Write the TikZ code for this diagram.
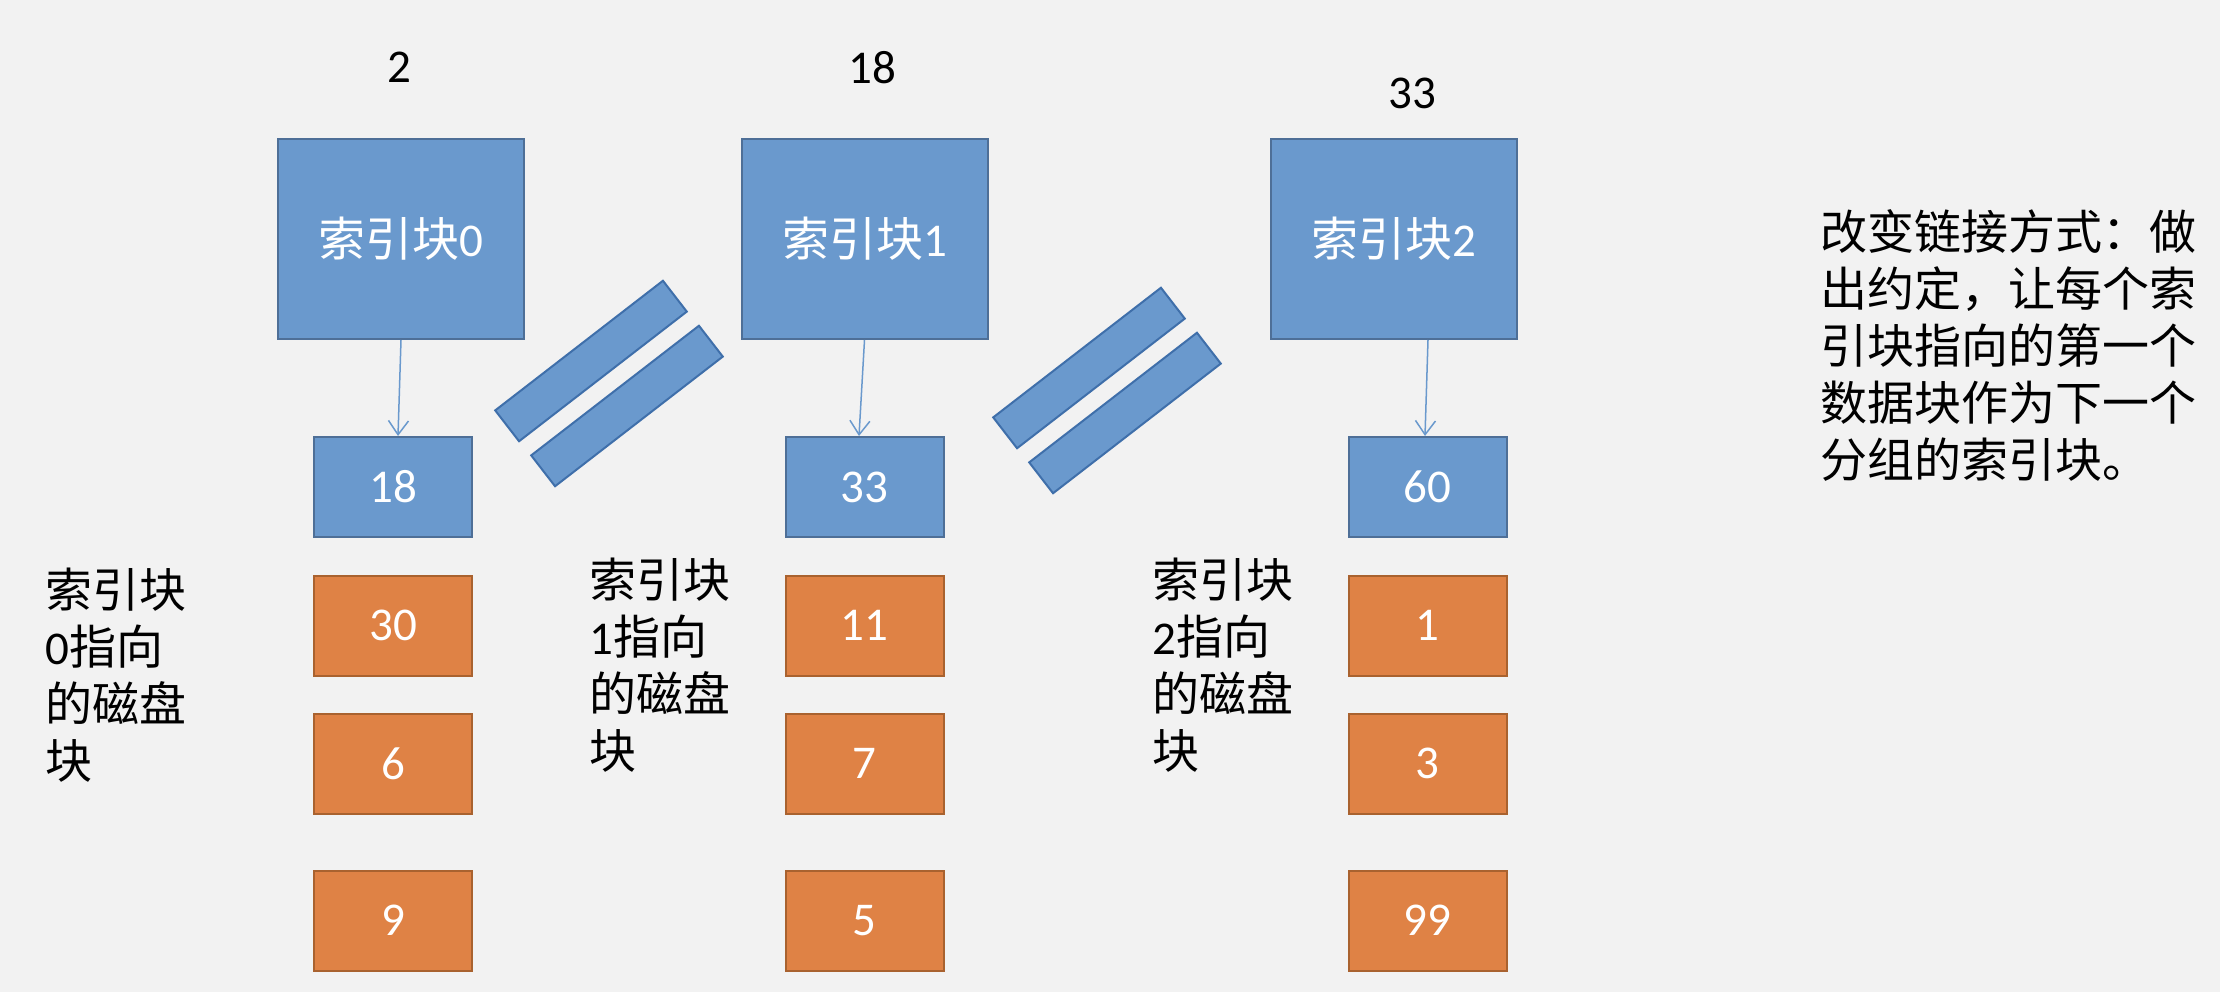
\documentclass[tikz,border=0pt]{standalone}
\usepackage{fontspec}
\setmainfont{Carlito}
\newfontfamily\cjk{Noto Sans CJK SC}
\usetikzlibrary{arrows.meta}

\definecolor{bg}{HTML}{F2F2F2}
\definecolor{bluefill}{HTML}{6A99CD}
\definecolor{blueline}{HTML}{4E6F97}
\definecolor{barline}{HTML}{3F6FAA}
\definecolor{orangefill}{HTML}{DF8245}
\definecolor{orangeline}{HTML}{A9622F}
\definecolor{arrowblue}{HTML}{6A99CD}

\newcommand\lat[1]{{\rmfamily#1}}

\tikzset{
  txt/.style={font=\fontsize{47}{57}\selectfont},
  indexbox/.style={draw=blueline, fill=bluefill, line width=2pt,
    minimum width=246pt, minimum height=200pt, inner sep=0pt, text=white, txt},
  firstbox/.style={draw=blueline, fill=bluefill, line width=2pt,
    minimum width=158pt, minimum height=100pt, inner sep=0pt, text=white, txt},
  databox/.style={draw=orangeline, fill=orangefill, line width=2pt,
    minimum width=158pt, minimum height=100pt, inner sep=0pt, text=white, txt},
  bar/.style={draw=barline, fill=bluefill, line width=2pt,
    minimum width=212pt, minimum height=39pt, inner sep=0pt, rotate=37.7},
  link/.style={draw=arrowblue, line width=1.5pt,
    -{Straight Barb[length=14pt,width=20pt,line width=1.5pt]}},
  % multi-line captions: anchored on the baseline of their last line
  note/.style={font=\fontsize{47}{57}\selectfont\cjk, align=left,
    inner sep=0pt, anchor=base west},
  blocknum/.style={txt, inner sep=0pt},
}

\begin{document}
\begin{tikzpicture}[x=1pt,y=-1pt]
  % canvas
  \fill[bg] (0,0) rectangle (2220,992);
  \path[use as bounding box] (0,0) rectangle (2220,992);

  % block numbers of the index blocks
  \node[blocknum] (n0) at (399,67) {2};
  \node[blocknum] (n1) at (872,68) {18};
  \node[blocknum] (n2) at (1412,93) {33};

  % index blocks
  \node[indexbox] (i0) at (401,239)  {{\cjk 索引块}0};
  \node[indexbox] (i1) at (864.5,239) {{\cjk 索引块}1};
  \node[indexbox] (i2) at (1394,239) {{\cjk 索引块}2};

  % group 0
  \node[firstbox] (b00) at (393,487)   {18};
  \node[databox]  (b01) at (393,625.5) {30};
  \node[databox]  (b02) at (393,763.5) {6};
  \node[databox]  (b03) at (393,920.5) {9};

  % group 1
  \node[firstbox] (b10) at (864.5,487)   {33};
  \node[databox]  (b11) at (864.5,625.5) {11};
  \node[databox]  (b12) at (864.5,763.5) {7};
  \node[databox]  (b13) at (864.5,920.5) {5};

  % group 2
  \node[firstbox] (b20) at (1427.5,487)   {60};
  \node[databox]  (b21) at (1427.5,625.5) {1};
  \node[databox]  (b22) at (1427.5,763.5) {3};
  \node[databox]  (b23) at (1427.5,920.5) {99};

  % pointers from index blocks to their first data block
  \draw[link] (i0.south) -- ([xshift=5pt]b00.north);
  \draw[link] (i1.south) -- ([xshift=-5.5pt]b10.north);
  \draw[link] ([xshift=34pt]i2.south) -- ([xshift=-2.5pt]b20.north);

  % "=" signs between groups
  \node[bar] (e0a) at (591,361) {};
  \node[bar] (e0b) at (627,406) {};
  \node[bar] (e1a) at (1089,368) {};
  \node[bar] (e1b) at (1125,413) {};

  % group captions
  \node[note] (c0) at (45,778)
    {索引块\\\lat{0}指向\\的磁盘\\块};
  \node[note] (c1) at (589,768)
    {索引块\\\lat{1}指向\\的磁盘\\块};
  \node[note] (c2) at (1152,768)
    {索引块\\\lat{2}指向\\的磁盘\\块};

  % explanation
  \node[note] (expl) at (1820,477)
    {改变链接方式：做\\出约定，让每个索\\引块指向的第一个\\数据块作为下一个\\分组的索引块。};
\end{tikzpicture}
\end{document}
